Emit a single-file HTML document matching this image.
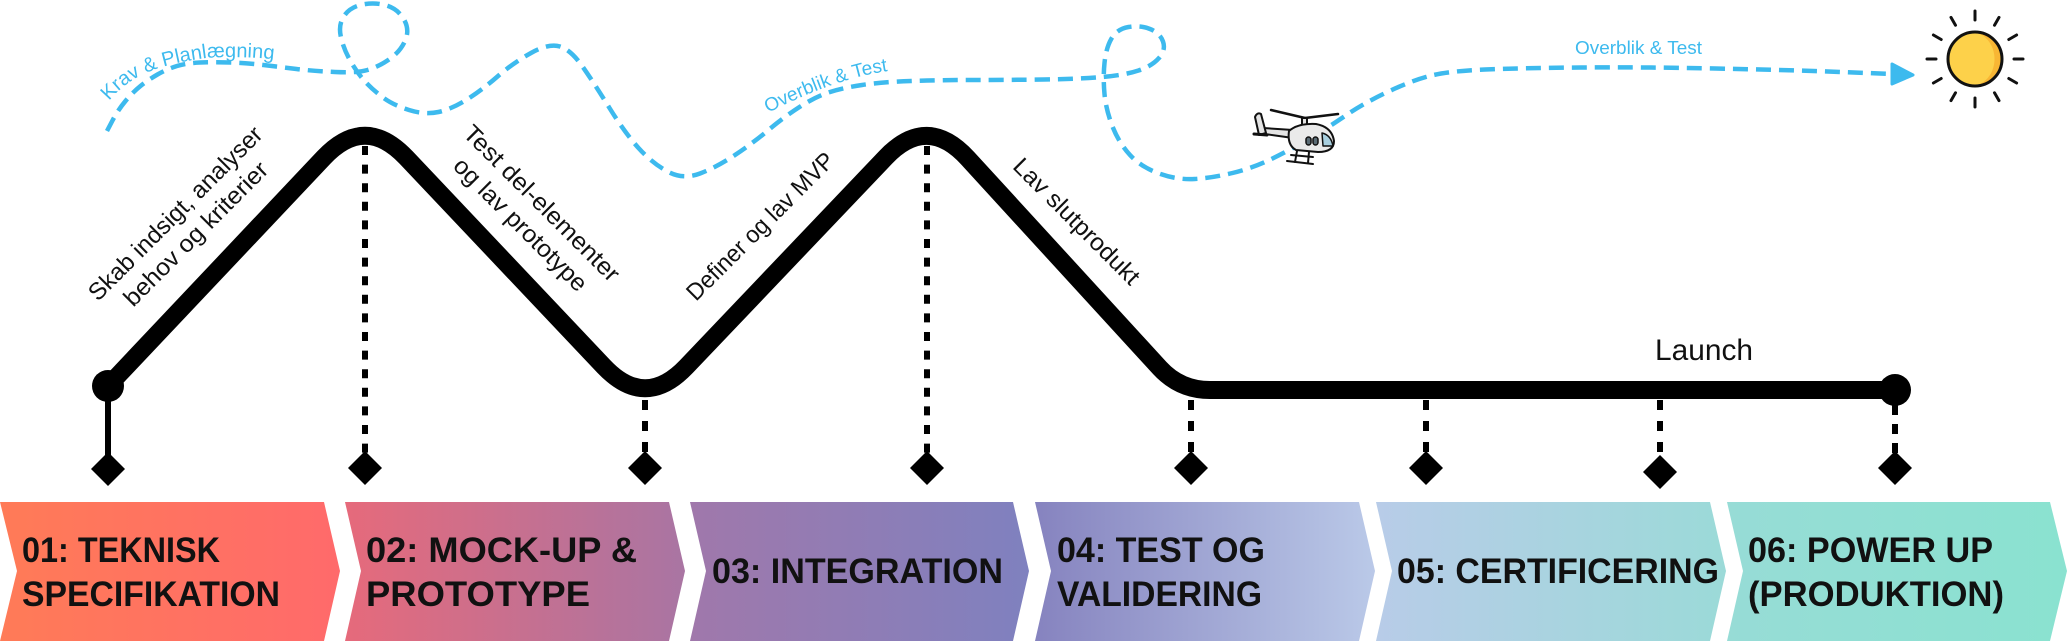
<!DOCTYPE html>
<html><head><meta charset="utf-8"><style>
html,body{margin:0;padding:0;background:#fff;}
svg{display:block;}
text{font-family:"Liberation Sans",sans-serif;}
</style></head><body>
<svg width="2067" height="641" viewBox="0 0 2067 641" xmlns="http://www.w3.org/2000/svg">
<defs>
<linearGradient id="g1" x1="0" x2="1" y1="0" y2="0"><stop offset="0" stop-color="#FF7B57"/><stop offset="1" stop-color="#FF6A6B"/></linearGradient>
<linearGradient id="g2" x1="0" x2="1" y1="0" y2="0"><stop offset="0" stop-color="#E66A7B"/><stop offset="1" stop-color="#A975A3"/></linearGradient>
<linearGradient id="g3" x1="0" x2="1" y1="0" y2="0"><stop offset="0" stop-color="#A078AB"/><stop offset="1" stop-color="#7F81BF"/></linearGradient>
<linearGradient id="g4" x1="0" x2="1" y1="0" y2="0"><stop offset="0" stop-color="#8683BF"/><stop offset="1" stop-color="#BAC9E8"/></linearGradient>
<linearGradient id="g5" x1="0" x2="1" y1="0" y2="0"><stop offset="0" stop-color="#B8CCE8"/><stop offset="1" stop-color="#9BDAD8"/></linearGradient>
<linearGradient id="g6" x1="0" x2="1" y1="0" y2="0"><stop offset="0" stop-color="#97DCD6"/><stop offset="1" stop-color="#8AE2D0"/></linearGradient>
</defs>

<!-- blue dashed route -->
<path d="M107,131 L112.5,120.5 Q118,110 125.5,101 Q133,92 140.5,86 Q148,80 157.5,74.5 Q167,69 177,66 Q187,63 200,62.5 Q213,62 230,62.5 Q247,63 263.5,65 Q280,67 296.5,69 Q313,71 335,72 Q357,73 367.5,70 Q378,67 389,59.5 Q400,52 405,41 Q410,30 404,19.5 Q398,9 386.5,5.5 Q375,2 362.5,4.5 Q350,7 344,16 Q338,25 341,37.5 Q344,50 351,62 Q358,74 365.5,82 Q373,90 383,97.5 Q393,105 409,110 Q425,115 438.5,112 Q452,109 467,99.5 Q482,90 497.5,76.5 Q513,63 531,53 Q549,43 560,46.5 Q571,50 582.5,66.5 Q594,83 609.5,108 Q625,133 638.5,148 Q652,163 667.5,171.5 Q683,180 700,173.5 Q717,167 735,155 Q753,143 768.5,130 Q784,117 799.5,107 Q815,97 828.5,92.5 Q842,88 862,85 Q882,82 911,81 Q940,80 973.5,80 Q1007,80 1043.5,79.5 Q1080,79 1102.5,77 Q1125,75 1138.5,70.5 Q1152,66 1159,58 Q1166,50 1163,41.5 Q1160,33 1150,29 Q1140,25 1128.5,27 Q1117,29 1111.5,38.5 Q1106,48 1104.5,63 Q1103,78 1104.5,94 Q1106,110 1112.5,126.5 Q1119,143 1130,155 Q1141,167 1159,173.5 Q1177,180 1194.5,179 Q1212,178 1232.5,173 Q1253,168 1271.5,159 Q1290,150 1309.5,138.5 Q1329,127 1346.5,115 Q1364,103 1388.5,91.5 Q1413,80 1431.5,75.5 Q1450,71 1485,69.5 Q1520,68 1581,67.5 Q1642,67 1715.5,68.5 Q1789,70 1840.5,72 L1893,74" fill="none" stroke="#3DBAEE" stroke-width="4.5" stroke-dasharray="15 8"/>
<polygon points="1892,64 1913,75 1892,84" fill="#3DBAEE" stroke="#3DBAEE" stroke-width="3" stroke-linejoin="round"/>

<!-- blue labels -->
<path id="tp1" d="M109,101 Q127,79 156,69 Q176,62 206,58 Q250,55 292,62" fill="none"/>
<text font-size="20" fill="#3DBAEE"><textPath href="#tp1">Krav &amp; Planlægning</textPath></text>
<path id="tp2" d="M768,113 Q820,86 866,75 Q890,70 912,68" fill="none"/>
<text font-size="19" fill="#3DBAEE"><textPath href="#tp2">Overblik &amp; Test</textPath></text>
<text x="1575" y="54" font-size="18" fill="#3DBAEE" textLength="127" lengthAdjust="spacingAndGlyphs">Overblik &amp; Test</text>

<!-- sun -->
<g stroke="#111" stroke-width="3" stroke-linecap="round">
<line x1="1975" y1="20" x2="1975" y2="11"/>
<line x1="1975" y1="98" x2="1975" y2="107"/>
<line x1="1936" y1="59" x2="1927" y2="59"/>
<line x1="2014" y1="59" x2="2023" y2="59"/>
<line x1="1955.5" y1="25.2" x2="1951" y2="17.4"/>
<line x1="1994.5" y1="25.2" x2="1999" y2="17.4"/>
<line x1="1955.5" y1="92.8" x2="1951" y2="100.6"/>
<line x1="1994.5" y1="92.8" x2="1999" y2="100.6"/>
<line x1="1941.2" y1="39.5" x2="1933.4" y2="35"/>
<line x1="2008.8" y1="39.5" x2="2016.6" y2="35"/>
<line x1="1941.2" y1="78.5" x2="1933.4" y2="83"/>
<line x1="2008.8" y1="78.5" x2="2016.6" y2="83"/>
</g>
<circle cx="1975" cy="59" r="27" fill="#F8B634"/>
<ellipse cx="1971" cy="59" rx="23.5" ry="27" fill="#FDD14A"/>
<circle cx="1975" cy="59" r="27" fill="none" stroke="#111" stroke-width="3"/>

<!-- helicopter -->
<g stroke="#111" stroke-width="2" stroke-linejoin="round" stroke-linecap="round">
<path d="M1263,128 L1293,130 L1293,138 L1265,134 Z" fill="#E4E4E4"/>
<path d="M1255,117 Q1257,112 1261,114 L1266,133 L1259,135 Z" fill="#E4E4E4"/>
<line x1="1254" y1="134" x2="1267" y2="135" stroke-width="3"/>
<line x1="1271" y1="110" x2="1305" y2="118" stroke-width="2.5"/>
<line x1="1305" y1="118" x2="1338" y2="114" stroke-width="2.5"/>
<rect x="1302" y="118" width="5" height="8" fill="#E4E4E4"/>
<path d="M1289,131 Q1298,123 1316,124 Q1332,127 1334,141 Q1334,152 1318,152 L1296,150 Q1287,145 1289,131 Z" fill="#EAEAEA"/>
<path d="M1322,133 Q1331,135 1333,146 L1323,146 Z" fill="#A8CFDF" stroke-width="1.5"/>
<rect x="1306" y="137" width="5" height="8" rx="2.5" fill="#5A6B74" stroke-width="1.5"/>
<rect x="1313" y="137" width="5" height="8" rx="2.5" fill="#5A6B74" stroke-width="1.5"/>
<line x1="1297" y1="151" x2="1295" y2="162"/>
<line x1="1309" y1="152" x2="1308" y2="163"/>
<line x1="1291" y1="155" x2="1313" y2="157"/>
<line x1="1287" y1="161" x2="1313" y2="164"/>
</g>

<!-- mountain path -->
<path d="M108,386 L323.8,157.6 Q365,114 406.2,157.6 L603.8,366.4 Q645,410 686.4,366.6 L885.6,157.4 Q927,114 967.6,158.2 L1159.7,367.9 Q1180,390 1210,390 L1895,390" fill="none" stroke="#000" stroke-width="18" stroke-linejoin="round" stroke-linecap="round"/>
<circle cx="108" cy="386" r="16" fill="#000"/>
<circle cx="1895" cy="390" r="16" fill="#000"/>

<!-- vertical connectors -->
<line x1="108" y1="400" x2="108" y2="456" stroke="#000" stroke-width="6"/>
<g stroke="#000" stroke-width="6">
<line x1="365" y1="146" x2="365" y2="455" stroke-dasharray="9 9.6"/>
<line x1="927" y1="146" x2="927" y2="455" stroke-dasharray="9 9.6"/>
<line x1="645" y1="400" x2="645" y2="455" stroke-dasharray="10 11"/>
<line x1="1191" y1="400" x2="1191" y2="455" stroke-dasharray="10 11"/>
<line x1="1426" y1="400" x2="1426" y2="455" stroke-dasharray="10 11"/>
<line x1="1660" y1="400" x2="1660" y2="458" stroke-dasharray="10 11"/>
<line x1="1895" y1="405" x2="1895" y2="455" stroke-dasharray="10 9"/>
</g>
<g fill="#000">
<polygon points="108,452 125,469 108,486 91,469"/>
<polygon points="365,451 382,468 365,485 348,468"/>
<polygon points="645,451 662,468 645,485 628,468"/>
<polygon points="927,451 944,468 927,485 910,468"/>
<polygon points="1191,451 1208,468 1191,485 1174,468"/>
<polygon points="1426,451 1443,468 1426,485 1409,468"/>
<polygon points="1660,455 1677,472 1660,489 1643,472"/>
<polygon points="1895,451 1912,468 1895,485 1878,468"/>
</g>

<!-- slope labels -->
<g font-size="24" fill="#111" text-anchor="middle">
<g transform="translate(181,219) rotate(-45)">
<text x="0" y="0" textLength="235" lengthAdjust="spacingAndGlyphs">Skab indsigt, analyser</text>
<text x="0" y="29" textLength="193" lengthAdjust="spacingAndGlyphs">behov og kriterier</text>
</g>
<g transform="translate(536,209) rotate(45)">
<text x="0" y="0" textLength="210" lengthAdjust="spacingAndGlyphs">Test del-elementer</text>
<text x="0" y="30" textLength="178" lengthAdjust="spacingAndGlyphs">og lav prototype</text>
</g>
<g transform="translate(766,232) rotate(-45)">
<text x="0" y="0" textLength="198" lengthAdjust="spacingAndGlyphs">Definer og lav MVP</text>
</g>
<g transform="translate(1071,227) rotate(45)">
<text x="0" y="0" textLength="168" lengthAdjust="spacingAndGlyphs">Lav slutprodukt</text>
</g>
</g>
<text x="1655" y="360" font-size="30" fill="#111" textLength="98" lengthAdjust="spacingAndGlyphs">Launch</text>

<!-- chevrons -->
<polygon points="0,502 324,502 340,571 324,641 0,641 17,571" fill="url(#g1)"/>
<polygon points="345,502 669,502 685,571 669,641 345,641 361,571" fill="url(#g2)"/>
<polygon points="690,502 1013,502 1029,571 1013,641 690,641 706,571" fill="url(#g3)"/>
<polygon points="1035,502 1359,502 1375,571 1359,641 1035,641 1051,571" fill="url(#g4)"/>
<polygon points="1376,502 1710,502 1726,571 1710,641 1376,641 1392,571" fill="url(#g5)"/>
<polygon points="1727,502 2050,502 2067,571 2050,641 1727,641 1743,571" fill="url(#g6)"/>

<g font-size="35" font-weight="bold" fill="#111">
<text x="22" y="562" textLength="198" lengthAdjust="spacingAndGlyphs">01: TEKNISK</text>
<text x="22" y="606" textLength="258" lengthAdjust="spacingAndGlyphs">SPECIFIKATION</text>
<text x="366" y="562" textLength="271" lengthAdjust="spacingAndGlyphs">02: MOCK-UP &amp;</text>
<text x="366" y="606" textLength="224" lengthAdjust="spacingAndGlyphs">PROTOTYPE</text>
<text x="712" y="583" textLength="291" lengthAdjust="spacingAndGlyphs">03: INTEGRATION</text>
<text x="1057" y="562" textLength="208" lengthAdjust="spacingAndGlyphs">04: TEST OG</text>
<text x="1057" y="606" textLength="205" lengthAdjust="spacingAndGlyphs">VALIDERING</text>
<text x="1397" y="583" textLength="322" lengthAdjust="spacingAndGlyphs">05: CERTIFICERING</text>
<text x="1748" y="562" textLength="245" lengthAdjust="spacingAndGlyphs">06: POWER UP</text>
<text x="1748" y="606" textLength="256" lengthAdjust="spacingAndGlyphs">(PRODUKTION)</text>
</g>
</svg>
</body></html>
